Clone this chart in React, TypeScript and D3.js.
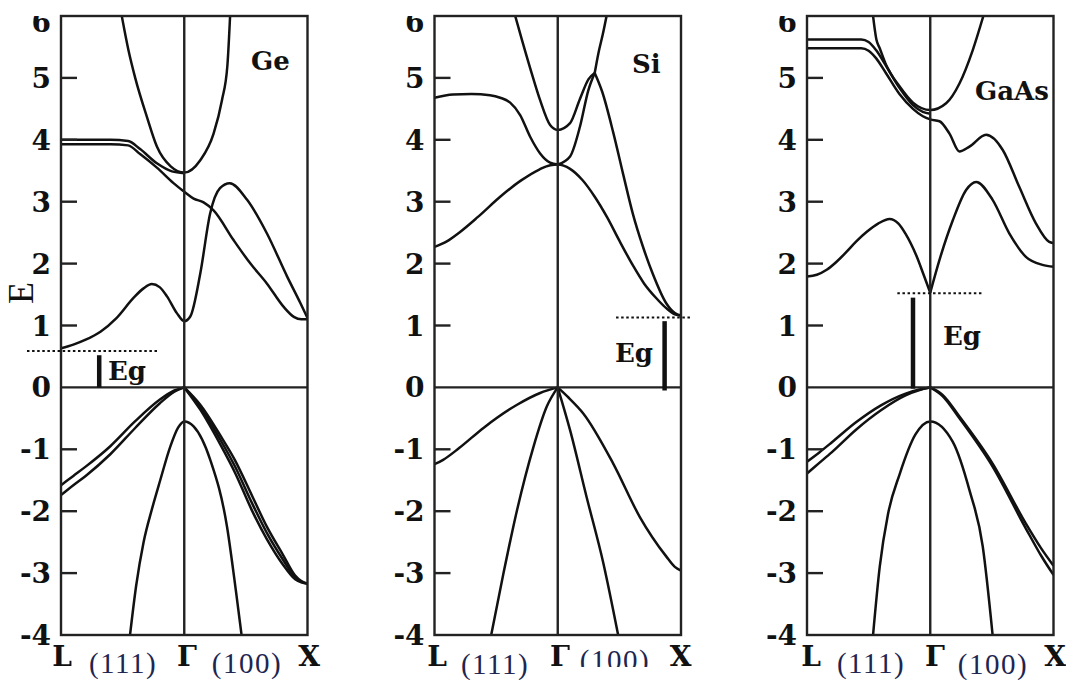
import React from 'react';
import * as d3 from 'd3';

type Pt = [number, number];

// Wave-vector coordinate k: L = -1, Γ = 0, X = +1. Energies in eV.
const energyTicks = [-4, -3, -2, -1, 0, 1, 2, 3, 4, 5, 6];
const kPointLabels = ['L', 'Γ', 'X'];
const directionLabels = ['(111)', '(100)'];

// ---------- Ge ----------
const geCondParabola: Pt[] = [[-0.507, 6], [-0.453, 5.45], [-0.398, 5.0], [-0.303, 4.37], [-0.222, 3.89], [-0.11, 3.57], [0, 3.47], [0.13, 3.67], [0.238, 4.1], [0.306, 4.64], [0.35, 5.2], [0.372, 6]];
const geCondPairUpper: Pt[] = [[-1, 4.0], [-0.6, 4.0], [-0.455, 3.98], [-0.358, 3.85], [-0.222, 3.62], [-0.1, 3.49], [0, 3.46]];
const geCondShoulder: Pt[] = [[-1, 3.93], [-0.6, 3.93], [-0.455, 3.91], [-0.358, 3.77], [-0.222, 3.55], [-0.087, 3.3], [0, 3.16], [0.076, 3.05], [0.157, 2.99], [0.238, 2.86], [0.4, 2.38], [0.537, 2.0], [0.67, 1.68], [0.807, 1.3], [0.889, 1.14], [0.95, 1.1], [1, 1.1]];
const geCondLowest: Pt[] = [[-1, 0.63], [-0.9, 0.69], [-0.8, 0.77], [-0.68, 0.9], [-0.55, 1.12], [-0.41, 1.45], [-0.33, 1.6], [-0.263, 1.67], [-0.2, 1.62], [-0.14, 1.47], [-0.06, 1.2], [0, 1.07], [0.05, 1.15], [0.13, 1.84], [0.21, 2.81], [0.29, 3.22], [0.369, 3.3], [0.51, 3.03], [0.67, 2.49], [0.835, 1.79], [0.943, 1.36], [1, 1.12]];
const geValHeavyL: Pt[] = [[-1, -1.58], [-0.9, -1.43], [-0.8, -1.28], [-0.6, -0.95], [-0.4, -0.55], [-0.2, -0.2], [-0.08, -0.05], [0, 0]];
const geValLightL: Pt[] = [[-1, -1.74], [-0.9, -1.58], [-0.8, -1.43], [-0.6, -1.08], [-0.4, -0.66], [-0.2, -0.26], [-0.08, -0.07], [0, 0]];
const geValX1: Pt[] = [[0, 0], [0.13, -0.28], [0.3, -0.8], [0.41, -1.17], [0.55, -1.75], [0.67, -2.25], [0.8, -2.7], [0.9, -3.04], [0.95, -3.13], [1, -3.17]];
const geValX2: Pt[] = [[0, 0], [0.13, -0.32], [0.3, -0.87], [0.41, -1.27], [0.55, -1.87], [0.67, -2.35], [0.8, -2.78], [0.9, -3.07], [0.95, -3.14], [1, -3.17]];
const geValX3: Pt[] = [[0, 0], [0.13, -0.36], [0.3, -0.95], [0.41, -1.37], [0.55, -1.99], [0.67, -2.45], [0.8, -2.86], [0.9, -3.1], [0.95, -3.15], [1, -3.17]];
const geValSplitOff: Pt[] = [[-0.44, -4], [-0.39, -3.2], [-0.33, -2.5], [-0.26, -1.95], [-0.195, -1.5], [-0.114, -0.96], [-0.05, -0.65], [0, -0.55], [0.076, -0.63], [0.211, -1.17], [0.347, -2.25], [0.42, -3.3], [0.465, -4]];

// ---------- Si ----------
const siCondUpperLeft: Pt[] = [[-0.345, 6], [-0.29, 5.61], [-0.2, 5.0], [-0.143, 4.64], [-0.062, 4.24], [0, 4.16], [0.1, 4.27], [0.18, 4.66], [0.25, 4.98], [0.3, 5.08]];
const siCondUpperRise: Pt[] = [[0.3, 5.08], [0.33, 5.4], [0.365, 5.7], [0.396, 6]];
const siCondMidRise: Pt[] = [[0, 3.6], [0.1, 3.73], [0.18, 4.21], [0.248, 4.8], [0.3, 5.08]];
const siCondSteepFall: Pt[] = [[0.3, 5.08], [0.36, 4.78], [0.45, 4.12], [0.53, 3.45], [0.61, 2.8], [0.69, 2.28], [0.77, 1.84], [0.88, 1.36], [0.95, 1.2], [1, 1.16]];
const siCondFlatL: Pt[] = [[-1, 4.68], [-0.85, 4.73], [-0.7, 4.74], [-0.55, 4.72], [-0.467, 4.68], [-0.386, 4.6], [-0.305, 4.4], [-0.224, 4.05], [-0.143, 3.78], [-0.062, 3.63], [0, 3.6]];
const siCondLowest: Pt[] = [[-1, 2.27], [-0.9, 2.36], [-0.8, 2.5], [-0.65, 2.75], [-0.467, 3.08], [-0.3, 3.34], [-0.15, 3.52], [-0.06, 3.59], [0, 3.6], [0.1, 3.53], [0.2, 3.35], [0.3, 3.08], [0.4, 2.75], [0.5, 2.37], [0.61, 1.97], [0.7, 1.68], [0.8, 1.44], [0.88, 1.28], [0.95, 1.18], [1, 1.16]];
const siValTopL: Pt[] = [[-1, -1.24], [-0.93, -1.17], [-0.8, -0.98], [-0.6, -0.65], [-0.33, -0.28], [-0.143, -0.09], [0, 0]];
const siValSteepL: Pt[] = [[-0.54, -4], [-0.44, -3.0], [-0.33, -1.98], [-0.197, -0.96], [-0.089, -0.31], [0, 0]];
const siValSteepX: Pt[] = [[0, 0], [0.1, -0.69], [0.234, -1.77], [0.37, -2.84], [0.49, -4]];
const siValTopX: Pt[] = [[0, 0], [0.08, -0.15], [0.207, -0.42], [0.45, -1.23], [0.665, -2.09], [0.88, -2.73], [0.95, -2.9], [1, -2.96]];

// ---------- GaAs ----------
const gaCondParabola: Pt[] = [[-0.464, 6], [-0.437, 5.62], [-0.41, 5.48], [-0.356, 5.2], [-0.248, 4.86], [-0.14, 4.6], [0, 4.48], [0.129, 4.59], [0.237, 4.91], [0.345, 5.45], [0.431, 6]];
const gaCondPairUpper: Pt[] = [[-1, 5.62], [-0.56, 5.62], [-0.5, 5.58], [-0.44, 5.45], [-0.36, 5.2], [-0.25, 4.84], [-0.14, 4.56], [-0.06, 4.45], [0, 4.42]];
const gaCondPairLower: Pt[] = [[-1, 5.48], [-0.56, 5.48], [-0.5, 5.44], [-0.44, 5.32], [-0.36, 5.08], [-0.25, 4.74], [-0.14, 4.5], [-0.06, 4.38], [0, 4.33], [0.075, 4.3], [0.156, 4.1], [0.237, 3.81], [0.318, 3.89], [0.453, 4.08], [0.587, 3.84], [0.722, 3.24], [0.857, 2.65], [0.965, 2.35], [1, 2.33]];
const gaCondLowestL: Pt[] = [[-1, 1.79], [-0.92, 1.82], [-0.84, 1.9], [-0.76, 2.03], [-0.68, 2.19], [-0.6, 2.36], [-0.517, 2.51], [-0.42, 2.65], [-0.33, 2.72], [-0.26, 2.65], [-0.2, 2.48], [-0.113, 2.13], [-0.05, 1.8], [0, 1.53]];
const gaCondLowestX: Pt[] = [[0, 1.53], [0.075, 2.06], [0.183, 2.7], [0.291, 3.19], [0.372, 3.32], [0.506, 3.03], [0.641, 2.49], [0.776, 2.11], [0.91, 1.98], [1, 1.95]];
const gaValHeavyL: Pt[] = [[-1, -1.2], [-0.9, -1.05], [-0.8, -0.89], [-0.6, -0.56], [-0.4, -0.29], [-0.2, -0.1], [-0.08, -0.03], [0, 0]];
const gaValLightL: Pt[] = [[-1, -1.39], [-0.9, -1.22], [-0.8, -1.05], [-0.6, -0.68], [-0.4, -0.37], [-0.2, -0.13], [-0.08, -0.04], [0, 0]];
const gaValX1: Pt[] = [[0, 0], [0.1, -0.12], [0.237, -0.47], [0.506, -1.23], [0.776, -2.2], [0.9, -2.6], [1, -2.88]];
const gaValX2: Pt[] = [[0, 0], [0.1, -0.14], [0.237, -0.5], [0.506, -1.28], [0.776, -2.28], [0.9, -2.72], [1, -3.03]];
const gaValSplitOff: Pt[] = [[-0.464, -4], [-0.41, -2.9], [-0.343, -2.05], [-0.248, -1.4], [-0.12, -0.76], [0, -0.55], [0.183, -0.88], [0.318, -1.66], [0.426, -2.57], [0.506, -4]];

// Band-gap markers: dotted level, its k extent, bar position and bar energy span
const geGap = { level: 0.59, from: -1.276, to: -0.22, barK: -0.69, barTop: 0.52, barBottom: 0 };
const siGap = { level: 1.13, from: 0.473, to: 1.075, barK: 0.867, barTop: 1.07, barBottom: -0.05 };
const gaGap = { level: 1.52, from: -0.267, to: 0.43, barK: -0.14, barTop: 1.45, barBottom: -0.02 };

const W = 1066;
const H = 680;
const TOP = 16;
const BOTTOM = 635;
const PW = 246.5;

const BOLD = "'DejaVu Serif', serif";
const ROMAN = "'Liberation Serif', 'Times New Roman', serif";
const INK = '#111';

type Gap = typeof geGap;
type PanelSpec = {
  id: string;
  left: number;
  title: string;
  titleX: number;
  titleY: number;
  bands: Pt[][];
  gap: Gap;
  egX: number;
  egY: number;
  egAnchor: 'start' | 'end';
  labelDx: number[];
  dirY: number[];
  dirClip?: number;
};

const panels: PanelSpec[] = [
  {
    id: 'ge', left: 61, title: 'Ge', titleX: 190, titleY: 70,
    bands: [geCondParabola, geCondPairUpper, geCondShoulder, geCondLowest, geValHeavyL, geValLightL, geValX1, geValX2, geValX3, geValSplitOff],
    gap: geGap, egX: 108, egY: 380, egAnchor: 'start',
    labelDx: [1, 62, 126, 186, 248], dirY: [673, 673],
  },
  {
    id: 'si', left: 434.5, title: 'Si', titleX: 197.5, titleY: 73,
    bands: [siCondUpperLeft, siCondUpperRise, siCondMidRise, siCondSteepFall, siCondFlatL, siCondLowest, siValTopL, siValSteepL, siValSteepX, siValTopX],
    gap: siGap, egX: 653, egY: 362, egAnchor: 'end',
    labelDx: [2.5, 60.5, 125.5, 180.5, 246], dirY: [674, 670],
    dirClip: 667,
  },
  {
    id: 'gaas', left: 807, title: 'GaAs', titleX: 168, titleY: 100,
    bands: [gaCondParabola, gaCondPairUpper, gaCondPairLower, gaCondLowestL, gaCondLowestX, gaValHeavyL, gaValLightL, gaValX1, gaValX2, gaValSplitOff],
    gap: gaGap, egX: 943, egY: 345, egAnchor: 'start',
    labelDx: [4, 64, 128, 186, 248], dirY: [673, 674],
  },
];

function Panel({ p }: { p: PanelSpec }) {
  const x = d3.scaleLinear().domain([-1, 1]).range([p.left, p.left + PW]);
  const y = d3.scaleLinear().domain([-4, 6]).range([BOTTOM, TOP]);
  const line = d3
    .line<Pt>()
    .x((d) => x(d[0]))
    .y((d) => y(d[1]))
    .curve(d3.curveMonotoneX);

  const innerTicks = energyTicks.filter((t) => t > -4 && t < 6 && t !== 0);
  const labelTexts = [kPointLabels[0], directionLabels[0], kPointLabels[1], directionLabels[1], kPointLabels[2]];

  return (
    <g>
      <defs>
        <clipPath id={`plot-${p.id}`}>
          <rect x={x(-1)} y={TOP} width={PW} height={BOTTOM - TOP} />
        </clipPath>
        <clipPath id={`lab-${p.id}`}>
          <rect x={p.left - 70} y={16} width={80} height={H - 16} />
        </clipPath>
        {p.dirClip ? (
          <clipPath id={`dir-${p.id}`}>
            <rect x={p.left} y={600} width={PW} height={p.dirClip - 600} />
          </clipPath>
        ) : null}
      </defs>

      {/* energy bands */}
      <g clipPath={`url(#plot-${p.id})`} fill="none" stroke={INK} strokeWidth={2.5} strokeLinejoin="round">
        {p.bands.map((b, i) => (
          <path key={i} d={line(b) ?? ''} />
        ))}
      </g>

      {/* frame, Γ line and valence-band top */}
      <g stroke="#222" strokeWidth={2.4} fill="none">
        <rect x={x(-1)} y={TOP} width={PW} height={BOTTOM - TOP} />
        <line x1={x(0)} x2={x(0)} y1={TOP} y2={BOTTOM} />
        <line x1={x(-1)} x2={x(1)} y1={y(0)} y2={y(0)} />
        {innerTicks.map((t) => (
          <line key={t} x1={x(-1)} x2={x(-1) + 16} y1={y(t)} y2={y(t)} />
        ))}
      </g>

      {/* energy tick labels */}
      <g clipPath={`url(#lab-${p.id})`} fontFamily={BOLD} fontWeight="bold" fontSize={28} fill={INK} textAnchor="end">
        {energyTicks.map((t) => (
          <text key={t} x={x(-1) - 10} y={y(t) + (t === 6 ? 6 : 0)} dy="0.36em">
            {t}
          </text>
        ))}
      </g>

      {/* band-gap marker */}
      <line
        x1={x(p.gap.from)} x2={x(p.gap.to)} y1={y(p.gap.level)} y2={y(p.gap.level)}
        stroke={INK} strokeWidth={2} strokeDasharray="2.5 2.6"
      />
      <line
        x1={x(p.gap.barK)} x2={x(p.gap.barK)} y1={y(p.gap.barTop)} y2={y(p.gap.barBottom)}
        stroke={INK} strokeWidth={4.5}
      />
      <text x={p.egX} y={p.egY} fontFamily={BOLD} fontWeight="bold" fontSize={26} fill={INK} textAnchor={p.egAnchor}>
        Eg
      </text>

      {/* material name */}
      <text x={p.left + p.titleX} y={p.titleY} fontFamily={BOLD} fontWeight="bold" fontSize={26} fill={INK}>
        {p.title}
      </text>

      {/* k-path labels */}
      {labelTexts.map((s, i) => {
        const isDir = i === 1 || i === 3;
        const cx = p.left + p.labelDx[i];
        if (isDir) {
          return (
            <text
              key={i} x={cx} y={p.dirY[i === 1 ? 0 : 1]} textAnchor="middle" fontFamily={ROMAN} fontSize={29}
              letterSpacing={1.5} fill="#1d2550"
              clipPath={i === 3 && p.dirClip ? `url(#dir-${p.id})` : undefined}
            >
              {s}
            </text>
          );
        }
        return (
          <text key={i} x={cx} y={666} textAnchor="middle" fontFamily={BOLD} fontWeight="bold" fontSize={28} fill={INK}>
            {s}
          </text>
        );
      })}
    </g>
  );
}

export default function App() {
  return (
    <svg
      width={W}
      height={H}
      viewBox={`0 0 ${W} ${H}`}
      style={{ position: 'absolute', left: 0, top: 0, background: '#fff', display: 'block' }}
    >
      <rect width={W} height={H} fill="#fff" />
      {panels.map((p) => (
        <Panel key={p.id} p={p} />
      ))}
      <text
        transform="translate(33,293) rotate(-90)"
        textAnchor="middle"
        fontFamily={ROMAN}
        fontSize={36}
        fill={INK}
      >
        E
      </text>
    </svg>
  );
}
